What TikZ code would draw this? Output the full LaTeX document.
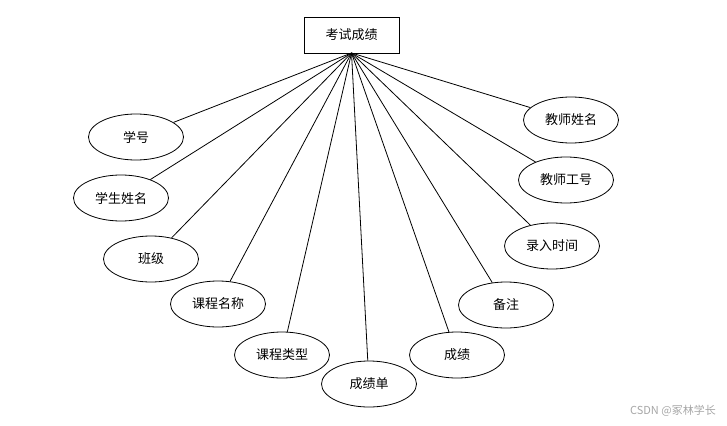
\documentclass[tikz,border=0pt]{standalone}
\usepackage{fontspec}
\setmainfont{Noto Sans CJK SC}
\usetikzlibrary{shapes.geometric}
\tikzset{
  ent/.style={draw, line width=0.8pt, minimum width=95pt, minimum height=36pt, inner sep=0pt, font=\fontsize{13}{15}\selectfont},
  attr/.style={draw, ellipse, line width=0.8pt, minimum width=95pt, minimum height=46pt, inner sep=0pt, font=\fontsize{13}{15}\selectfont},
  conn/.style={line width=0.8pt}
}
\begin{document}
\begin{tikzpicture}[x=1pt,y=-1pt]
\useasboundingbox (0,0) rectangle (727,425);
\node[ent] (main) at (351.5,35) {考试成绩};
\coordinate (apex) at (351.5,53);
\node[attr] (a1) at (136,137) {学号};
\node[attr] (a2) at (121,198) {学生姓名};
\node[attr] (a3) at (151,259) {班级};
\node[attr] (a4) at (218,304) {课程名称};
\node[attr] (a5) at (282,355) {课程类型};
\node[attr] (a6) at (369,384) {成绩单};
\node[attr] (a7) at (457,355) {成绩};
\node[attr] (a8) at (506,305) {备注};
\node[attr] (a9) at (552,246) {录入时间};
\node[attr] (a10) at (566,180) {教师工号};
\node[attr] (a11) at (571,120) {教师姓名};
\foreach \n in {a1,a2,a3,a4,a5,a6,a7,a8,a9,a10,a11}
  \draw[conn] (apex) -- (\n);
\node[text=black!35, font=\fontsize{11}{13}\selectfont, anchor=east, inner sep=0pt] (wm) at (716,411) {CSDN @冢林学长};
\end{tikzpicture}
\end{document}
